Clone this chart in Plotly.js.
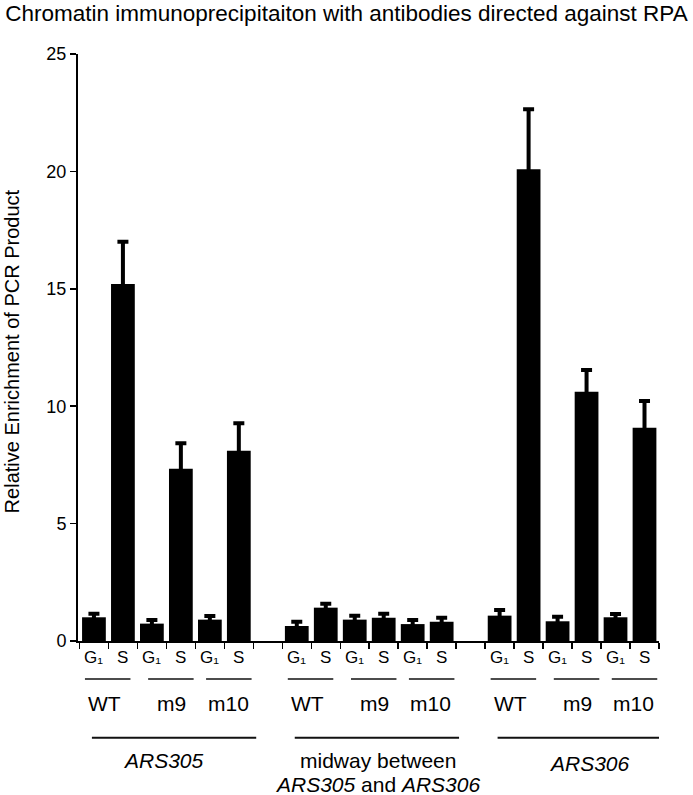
<!DOCTYPE html>
<html>
<head>
<meta charset="utf-8">
<script src="https://cdn.plot.ly/plotly-3.0.1.min.js"></script>
<style>html,body{margin:0;padding:0;background:#fff;}#chart{width:693px;height:795px;}</style>
</head>
<body>
<div id="chart"></div>
<script>
// ---- data ----
const regions = ['ARS305', 'midway', 'ARS306'];
const strains = ['WT', 'm9', 'm10'];
const phases = ['G₁', 'S'];
// order within each region: WT G1, WT S, m9 G1, m9 S, m10 G1, m10 S
const ars305Values = [1.01, 15.2, 0.74, 7.34, 0.91, 8.1];
const ars305Errors = [0.15, 1.8, 0.15, 1.08, 0.15, 1.17];
const midwayValues = [0.64, 1.42, 0.91, 0.99, 0.72, 0.82];
const midwayErrors = [0.18, 0.17, 0.17, 0.17, 0.17, 0.17];
const ars306Values = [1.08, 20.09, 0.84, 10.62, 1.01, 9.08];
const ars306Errors = [0.24, 2.56, 0.19, 0.92, 0.14, 1.14];
const yTickVals = [0, 5, 10, 15, 20, 25];

// ---- layout helpers ----
const groupGap = 7;
const regionValues = [ars305Values, midwayValues, ars306Values];
const regionErrors = [ars305Errors, midwayErrors, ars306Errors];
const x = [], y = [], err = [];
regionValues.forEach((vals, g) => {
  vals.forEach((v, i) => { x.push(g * groupGap + i); y.push(v); err.push(regionErrors[g][i]); });
});
const lastBar = x[x.length - 1];

const spec = {
  strainLabelOffset: [-0.13, 0.18, 0.13],
  underline: [[-0.81, 0.76], [-0.63, 0.94], [-0.63, 0.94]],
  longLine: [-0.07, 5.6],
  regionLabelX: [2.41, 9.79, 17.1],
  phaseY: -0.028, underlineY: -0.0647, strainY: -0.107, longLineY: -0.165
};

const font = 'Liberation Sans, Arial, Helvetica, sans-serif';
const annotations = [];
const shapes = [];
x.forEach((xv, i) => {
  annotations.push({x: xv, y: spec.phaseY, xref: 'x', yref: 'paper', text: phases[i % 2],
    showarrow: false, xanchor: 'center', yanchor: 'middle', font: {size: 17, color: '#000', family: font}});
});
regions.forEach((r, g) => {
  strains.forEach((s, k) => {
    const c = g * groupGap + 2 * k + 0.5;
    annotations.push({x: c + spec.strainLabelOffset[k], y: spec.strainY, xref: 'x', yref: 'paper', text: s,
      showarrow: false, xanchor: 'center', yanchor: 'middle', font: {size: 21, color: '#000', family: font}});
    shapes.push({type: 'line', xref: 'x', yref: 'paper', x0: c + spec.underline[k][0], x1: c + spec.underline[k][1],
      y0: spec.underlineY, y1: spec.underlineY, line: {color: '#111', width: 1.6}});
  });
  shapes.push({type: 'line', xref: 'x', yref: 'paper', x0: g * groupGap + spec.longLine[0], x1: g * groupGap + spec.longLine[1],
    y0: spec.longLineY, y1: spec.longLineY, line: {color: '#111', width: 2}});
});
const lf = {size: 21, color: '#000', family: font};
annotations.push({x: spec.regionLabelX[0], y: -0.204, xref: 'x', yref: 'paper', text: '<i>ARS305</i>', showarrow: false, xanchor: 'center', yanchor: 'middle', font: lf});
annotations.push({x: spec.regionLabelX[1], y: -0.203, xref: 'x', yref: 'paper', text: 'midway between', showarrow: false, xanchor: 'center', yanchor: 'middle', font: lf});
annotations.push({x: spec.regionLabelX[1], y: -0.244, xref: 'x', yref: 'paper', text: '<i>ARS305</i> and <i>ARS306</i>', showarrow: false, xanchor: 'center', yanchor: 'middle', font: lf});
annotations.push({x: spec.regionLabelX[2], y: -0.209, xref: 'x', yref: 'paper', text: '<i>ARS306</i>', showarrow: false, xanchor: 'center', yanchor: 'middle', font: lf});
annotations.push({x: -0.114, y: 0.493, xref: 'paper', yref: 'paper', text: 'Relative Enrichment of PCR Product', textangle: -90,
  showarrow: false, xanchor: 'center', yanchor: 'middle', font: {size: 20, color: '#000', family: font}});

const tickVals = [];
for (let t = -0.5; t <= lastBar + 0.5; t += 1) tickVals.push(t);

const trace = {
  type: 'bar', x: x, y: y,
  marker: {color: '#000', line: {width: 0}},
  error_y: {type: 'data', array: err, visible: true, color: '#000', thickness: 4, width: 5.5},
  hoverinfo: 'none'
};

const layout = {
  width: 693, height: 795,
  margin: {l: 78, r: 34, t: 54, b: 154},
  paper_bgcolor: '#fff', plot_bgcolor: '#fff',
  showlegend: false,
  bargap: 0.18,
  title: {text: 'Chromatin immunoprecipitaiton with antibodies directed against RPA', font: {size: 22.5, color: '#000', family: font},
    x: 0.5, xref: 'container', xanchor: 'center', y: 1 - 13 / 795, yref: 'container', yanchor: 'middle'},
  xaxis: {range: [-0.55, lastBar + 0.5], showgrid: false, zeroline: false, showline: true, linecolor: '#000', linewidth: 2,
    ticks: 'outside', tickvals: tickVals, ticklen: 6, tickwidth: 1.5, tickcolor: '#000', showticklabels: false, fixedrange: true},
  yaxis: {range: [0, 25], tickvals: yTickVals, showgrid: false, zeroline: false, showline: true, linecolor: '#000', linewidth: 2,
    ticks: 'outside', ticklen: 6, tickwidth: 1.5, tickcolor: '#000', tickfont: {size: 18, color: '#000', family: font}, fixedrange: true},
  annotations: annotations,
  shapes: shapes
};

Plotly.newPlot('chart', [trace], layout, {displayModeBar: false, staticPlot: true});
</script>
</body>
</html>
